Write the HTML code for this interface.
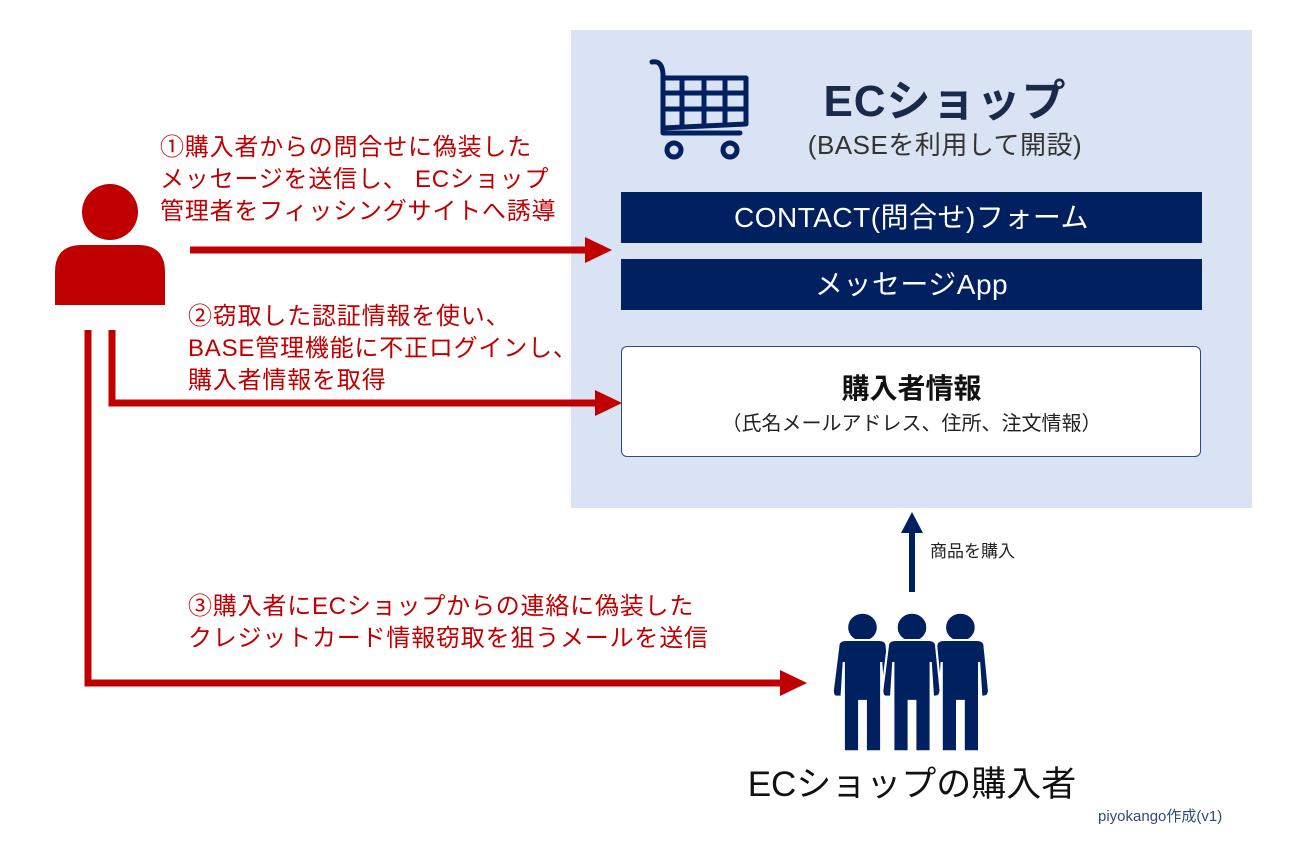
<!DOCTYPE html>
<html><head><meta charset="utf-8"><style>
body{margin:0;width:1300px;height:866px;background:#fff;position:relative;overflow:hidden;font-family:"Liberation Sans","Noto Sans CJK JP",sans-serif}
.a{position:absolute;white-space:nowrap}
.r{color:#c00000;font-size:24px;line-height:32px;letter-spacing:0.8px}
.bar{position:absolute;left:621px;width:581px;height:51px;background:#002060;color:#fff;font-size:28px;text-align:center;line-height:51px;letter-spacing:0.5px}
</style></head><body>
<div class="a" style="left:571px;top:30px;width:681px;height:478px;background:#dae3f3"></div>
<div class="a" style="left:740px;top:65px;width:410px;text-align:center;font-size:44px;font-weight:bold;color:#1a2a4a;letter-spacing:1px">ECショップ</div>
<div class="a" style="left:740px;top:125px;width:410px;text-align:center;font-size:26px;color:#333;letter-spacing:0.5px">(BASEを利用して開設)</div>
<div class="bar" style="top:192px">CONTACT(問合せ)フォーム</div>
<div class="bar" style="top:259px">メッセージApp</div>
<div class="a" style="left:621px;top:346px;width:578px;height:109px;background:#fff;border:1.5px solid #2f4a80;border-radius:6px"></div>
<div class="a" style="left:621px;top:367px;width:581px;text-align:center;font-size:28px;font-weight:bold;color:#111">購入者情報</div>
<div class="a" style="left:621px;top:407px;width:581px;text-align:center;font-size:20px;color:#222">（氏名メールアドレス、住所、注文情報）</div>
<div class="a" style="left:930px;top:537px;font-size:17px;color:#222">商品を購入</div>
<div class="a" style="left:692px;top:756px;width:440px;text-align:center;font-size:35px;color:#111">ECショップの購入者</div>
<div class="a" style="left:1098px;top:805px;font-size:15px;color:#2f4a80">piyokango作成(v1)</div>
<div class="a r" style="left:160px;top:132px">①購入者からの問合せに偽装した<br>メッセージを送信し、 ECショップ<br>管理者をフィッシングサイトへ誘導</div>
<div class="a r" style="left:188px;top:301px">②窃取した認証情報を使い、<br>BASE管理機能に不正ログインし、<br>購入者情報を取得</div>
<div class="a r" style="left:188px;top:591px">③購入者にECショップからの連絡に偽装した<br>クレジットカード情報窃取を狙うメールを送信</div>
<svg class="a" style="left:0;top:0" width="1300" height="866">
<g fill="none" stroke="#002060" stroke-width="5" stroke-linecap="round" stroke-linejoin="round">
<path d="M652 62 Q662 60 663 74 L663 133 L740 133"/>
<path d="M663 78 L746 78 L746 124 L663 128"/>
<path d="M663 93 L746 93 M663 109 L746 109 M682 78 L682 127 M704 78 L704 126 M725 78 L725 125"/>
<circle cx="674" cy="150" r="7"/><circle cx="730" cy="150" r="7"/>
</g>
<g fill="#c00000">
<circle cx="110" cy="212" r="28"/>
<path d="M55 305 L55 272 Q55 245 82 245 L138 245 Q165 245 165 272 L165 305 Z"/>
</g>
<g stroke="#c00000" stroke-width="7" fill="none">
<path d="M190 250 L590 250"/>
<path d="M112 330 L112 403 L600 403"/>
<path d="M88 330 L88 683 L785 683"/>
</g>
<g fill="#c00000">
<path d="M585 237 L612 250 L585 263Z"/>
<path d="M595 390 L622 403 L595 416Z"/>
<path d="M780 670 L807 683 L780 696Z"/>
</g>
<path d="M912 592 L912 530" stroke="#002060" stroke-width="6"/>
<path d="M901 533 L912 512 L923 533Z" fill="#002060"/>
<g fill="#002060" stroke="#fff" stroke-width="2" transform="translate(912,682) scale(1.1,1.05) translate(-912,-682)">
<g id="p">
<circle cx="867" cy="630" r="14"/>
<path d="M845 648 Q845 642 852 642 L882 642 Q889 642 889 648 L893 690 Q893 696 888 696 L886 696 L884 663 L884 748 L870 748 L870 700 L864 700 L864 748 L850 748 L850 663 L848 696 L843 696 Q840 696 840 690 Z"/>
</g>
<use href="#p" x="89"/>
<use href="#p" x="45"/>
</g>
</svg>
</body></html>
